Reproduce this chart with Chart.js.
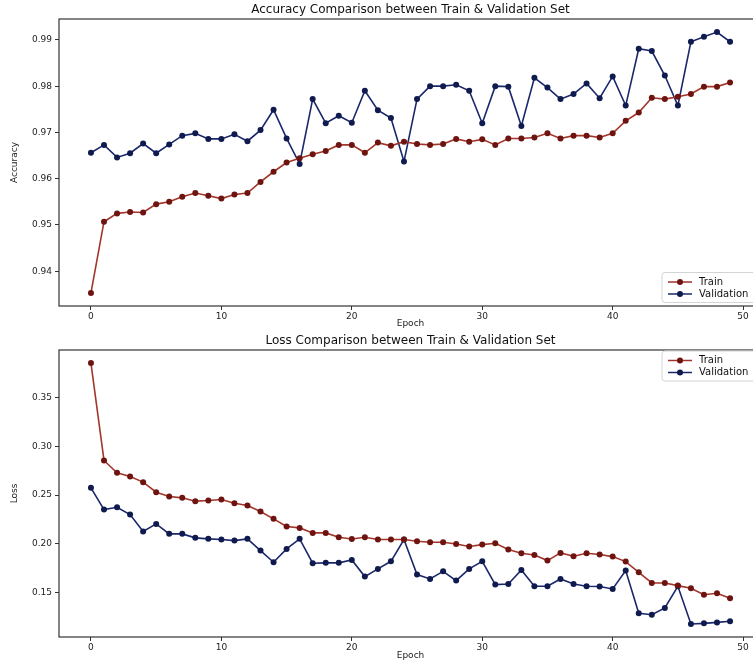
<!DOCTYPE html>
<html>
<head>
<meta charset="utf-8">
<script src="https://cdn.jsdelivr.net/npm/chart.js@4.4.1/dist/chart.umd.min.js"></script>
<style>
  html, body { margin: 0; padding: 0; background: #fff; overflow: hidden; }
  #wrap { position: relative; width: 753px; height: 662px; overflow: hidden; }
  canvas { position: absolute; left: 0; }
  #accChart { top: 0; }
  #lossChart { top: 330px; }
</style>
</head>
<body>
<div id="wrap">
  <canvas id="accChart" width="775" height="330"></canvas>
  <canvas id="lossChart" width="775" height="332"></canvas>
</div>
<script>
// epochs 0..49
const epochs = [0,1,2,3,4,5,6,7,8,9,10,11,12,13,14,15,16,17,18,19,20,21,22,23,24,
  25,26,27,28,29,30,31,32,33,34,35,36,37,38,39,40,41,42,43,44,45,46,47,48,49];

const accTrain = [0.9353,0.9507,0.9525,0.9528,0.9527,0.9545,0.9550,0.9561,0.9569,0.9563,
  0.9557,0.9566,0.9569,0.9593,0.9615,0.9635,0.9644,0.9653,0.9660,0.9673,
  0.9673,0.9656,0.9678,0.9671,0.9680,0.9675,0.9673,0.9675,0.9686,0.9680,
  0.9685,0.9673,0.9687,0.9687,0.9689,0.9698,0.9687,0.9693,0.9693,0.9689,
  0.9698,0.9725,0.9743,0.9775,0.9772,0.9777,0.9783,0.9799,0.9799,0.9808];
const accVal = [0.9656,0.9673,0.9646,0.9655,0.9676,0.9655,0.9674,0.9693,0.9698,0.9686,
  0.9686,0.9696,0.9681,0.9705,0.9749,0.9687,0.9632,0.9772,0.9720,0.9736,
  0.9721,0.9790,0.9748,0.9731,0.9637,0.9772,0.9800,0.9800,0.9803,0.9790,
  0.9720,0.9800,0.9799,0.9714,0.9818,0.9797,0.9772,0.9783,0.9806,0.9774,
  0.9821,0.9758,0.9881,0.9876,0.9823,0.9758,0.9896,0.9907,0.9917,0.9896];

const lossTrain = [0.3852,0.2854,0.2728,0.2690,0.2632,0.2529,0.2485,0.2471,0.2437,0.2444,
  0.2454,0.2416,0.2392,0.2331,0.2256,0.2177,0.2163,0.2112,0.2112,0.2067,
  0.2050,0.2067,0.2044,0.2044,0.2044,0.2027,0.2016,0.2016,0.1999,0.1972,
  0.1992,0.2006,0.1941,0.1903,0.1886,0.1828,0.1907,0.1873,0.1903,0.1890,
  0.1869,0.1818,0.1708,0.1599,0.1599,0.1572,0.1544,0.1479,0.1493,0.1442];
const lossVal = [0.2574,0.2351,0.2375,0.2300,0.2126,0.2204,0.2102,0.2102,0.2061,0.2051,
  0.2044,0.2033,0.2051,0.1931,0.1811,0.1948,0.2051,0.1801,0.1805,0.1805,
  0.1835,0.1664,0.1743,0.1821,0.2044,0.1685,0.1640,0.1718,0.1623,0.1743,
  0.1821,0.1582,0.1589,0.1733,0.1565,0.1565,0.1640,0.1589,0.1565,0.1562,
  0.1538,0.1726,0.1288,0.1274,0.1343,0.1565,0.1179,0.1185,0.1195,0.1206];

const xTicks = [0, 10, 20, 30, 40, 50];
const accTicks = [0.94, 0.95, 0.96, 0.97, 0.98, 0.99];
const lossTicks = [0.15, 0.20, 0.25, 0.30, 0.35];

const FONT = "'DejaVu Sans', sans-serif";
const TRAIN_LINE = '#a3352a', TRAIN_MARK = '#6e1410';
const VAL_LINE = '#1a276a', VAL_MARK = '#0f1a4e';

// matplotlib-like 5% margins
function pad(arrs) {
  const all = [].concat(...arrs);
  const lo = Math.min(...all), hi = Math.max(...all), r = hi - lo;
  return { min: lo - r * 0.05, max: hi + r * 0.05 };
}

const framePlugin = {
  id: 'frame',
  afterDatasetsDraw(chart, args, opts) {
    const a = chart.chartArea, ctx = chart.ctx;
    ctx.save();
    ctx.strokeStyle = '#333';
    ctx.lineWidth = 1.2;
    ctx.strokeRect(a.left, a.top, a.right - a.left, a.bottom - a.top);
    // title centered over axes
    ctx.fillStyle = '#111';
    ctx.font = '12px ' + FONT;
    ctx.textAlign = 'center';
    ctx.textBaseline = 'bottom';
    ctx.fillText(opts.text, (a.left + a.right) / 2, a.top - 3);
    ctx.restore();
  }
};

const legendPlugin = {
  id: 'boxLegend',
  afterDraw(chart, args, opts) {
    const a = chart.chartArea, ctx = chart.ctx;
    const w = 100, h = 30;
    const x = a.right - w;
    const y = opts.where === 'lower' ? a.bottom - 33.5 : a.top + 1;
    ctx.save();
    ctx.fillStyle = 'rgba(255,255,255,0.85)';
    ctx.strokeStyle = '#d4d4d4';
    ctx.lineWidth = 1;
    ctx.beginPath();
    ctx.roundRect(x, y, w, h, 3);
    ctx.fill();
    ctx.stroke();
    chart.data.datasets.forEach((ds, i) => {
      const ry = y + 9.5 + i * 12;
      ctx.strokeStyle = ds.borderColor;
      ctx.lineWidth = 1.5;
      ctx.beginPath();
      ctx.moveTo(x + 6, ry);
      ctx.lineTo(x + 30, ry);
      ctx.stroke();
      ctx.fillStyle = ds.pointBackgroundColor;
      ctx.beginPath();
      ctx.arc(x + 18, ry, 3, 0, Math.PI * 2);
      ctx.fill();
      ctx.fillStyle = '#111';
      ctx.font = '10px ' + FONT;
      ctx.textAlign = 'left';
      ctx.textBaseline = 'middle';
      ctx.fillText(ds.label, x + 37, ry);
    });
    ctx.restore();
  }
};

function makeChart(id, title, yTitle, train, val, yTicks, legendWhere, top, axisH) {
  const yr = pad([train, val]);
  const mkSet = (label, data, line, mark) => ({
    label: label,
    data: epochs.map((e, i) => ({ x: e, y: data[i] })),
    borderColor: line,
    borderWidth: 1.6,
    pointBackgroundColor: mark,
    pointBorderColor: mark,
    pointRadius: 3,
    pointBorderWidth: 0,
    tension: 0
  });
  return new Chart(document.getElementById(id), {
    type: 'line',
    data: {
      datasets: [
        mkSet('Train', train, TRAIN_LINE, TRAIN_MARK),
        mkSet('Validation', val, VAL_LINE, VAL_MARK)
      ]
    },
    plugins: [framePlugin, legendPlugin],
    options: {
      responsive: false,
      animation: false,
      devicePixelRatio: 1,
      layout: { padding: { top: top, right: 13, left: 0, bottom: 0 } },
      plugins: {
        legend: { display: false },
        tooltip: { enabled: false },
        frame: { text: title },
        boxLegend: { where: legendWhere }
      },
      scales: {
        x: {
          type: 'linear',
          min: -2.45,
          max: 51.45,
          afterBuildTicks: s => { s.ticks = xTicks.map(v => ({ value: v })); },
          afterFit: s => { s.height = axisH; },
          grid: { drawOnChartArea: false, drawTicks: true, tickLength: 4, color: '#333' },
          border: { display: false },
          ticks: { color: '#222', font: { family: FONT, size: 9 }, padding: 1, maxRotation: 0 },
          title: { display: true, text: 'Epoch', color: '#222', font: { family: FONT, size: 9 }, padding: { top: 0, bottom: 1 } }
        },
        y: {
          min: yr.min,
          max: yr.max,
          afterBuildTicks: s => { s.ticks = yTicks.map(v => ({ value: v })); },
          afterFit: s => { s.width = 59; },
          grid: { drawOnChartArea: false, drawTicks: true, tickLength: 4, color: '#333' },
          border: { display: false },
          ticks: { color: '#222', font: { family: FONT, size: 9 }, padding: 3, callback: v => v.toFixed(2) },
          title: { display: true, text: yTitle, color: '#222', font: { family: FONT, size: 9 }, padding: { top: 9, bottom: 0 } }
        }
      }
    }
  });
}

makeChart('accChart', 'Accuracy Comparison between Train & Validation Set', 'Accuracy',
  accTrain, accVal, accTicks, 'lower', 19, 24);
makeChart('lossChart', 'Loss Comparison between Train & Validation Set', 'Loss',
  lossTrain, lossVal, lossTicks, 'upper', 20, 25);
</script>
</body>
</html>
